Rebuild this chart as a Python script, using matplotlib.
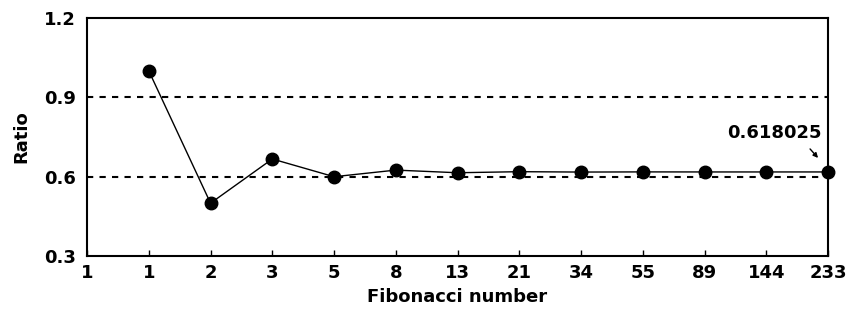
import matplotlib.pyplot as plt
from matplotlib.transforms import offset_copy

# tick labels along the x axis (first one sits on the left spine)
fib_labels = ['1', '1', '2', '3', '5', '8', '13', '21', '34', '55', '89', '144', '233']
# ratio of consecutive Fibonacci numbers
ratio = [1.0, 0.5, 0.667, 0.6, 0.625, 0.615, 0.619, 0.6176, 0.6182, 0.618, 0.618, 0.618025]
ref_lines = [0.9, 0.6]
y_ticks = [0.3, 0.6, 0.9, 1.2]

plt.rcParams['font.family'] = 'DejaVu Sans'
plt.rcParams['font.weight'] = 'bold'

fig = plt.figure(figsize=(8.5, 3.15), dpi=100)
ax = fig.add_axes([0.1024, 0.187, 0.8718, 0.756])

for y in ref_lines:
    ax.axhline(y, color='black', lw=1.5, ls=(0, (3, 3)), zorder=1)

xs = list(range(1, len(ratio) + 1))
ax.plot(xs, ratio, color='black', lw=1, marker='o', markersize=9, zorder=3, clip_on=False)

# label + short arrow on the last point
last = (xs[-1], ratio[-1])
tip = offset_copy(ax.transData, fig=fig, x=-10, y=14, units='dots')
tail = offset_copy(ax.transData, fig=fig, x=-18, y=23, units='dots')
ax.annotate('', xy=last, xycoords=tip, xytext=last, textcoords=tail,
            arrowprops=dict(arrowstyle='-|>', color='black', lw=1, mutation_scale=7,
                            shrinkA=0, shrinkB=0))
ax.text(last[0], last[1], '0.618025', ha='right', va='bottom', fontsize=13, fontweight='bold',
        transform=offset_copy(ax.transData, fig=fig, x=-6, y=30, units='dots'))

ax.set_xlim(0, 12)
ax.set_ylim(0.3, 1.2)
ax.set_xticks(range(len(fib_labels)))
ax.set_xticklabels(fib_labels, fontsize=13, fontweight='bold')
ax.set_yticks(y_ticks)
ax.set_yticklabels([f'{v:.1f}' for v in y_ticks], fontsize=13, fontweight='bold')
ax.tick_params(axis='x', direction='in', length=4, width=1, pad=6)
ax.tick_params(axis='y', length=0, pad=8)

for s in ax.spines.values():
    s.set_linewidth(1.5)

ax.set_xlabel('Fibonacci number', fontsize=13, fontweight='bold', labelpad=4)
ax.set_ylabel('Ratio', fontsize=13, fontweight='bold', labelpad=10)

fig.savefig('out.png', dpi=100)
